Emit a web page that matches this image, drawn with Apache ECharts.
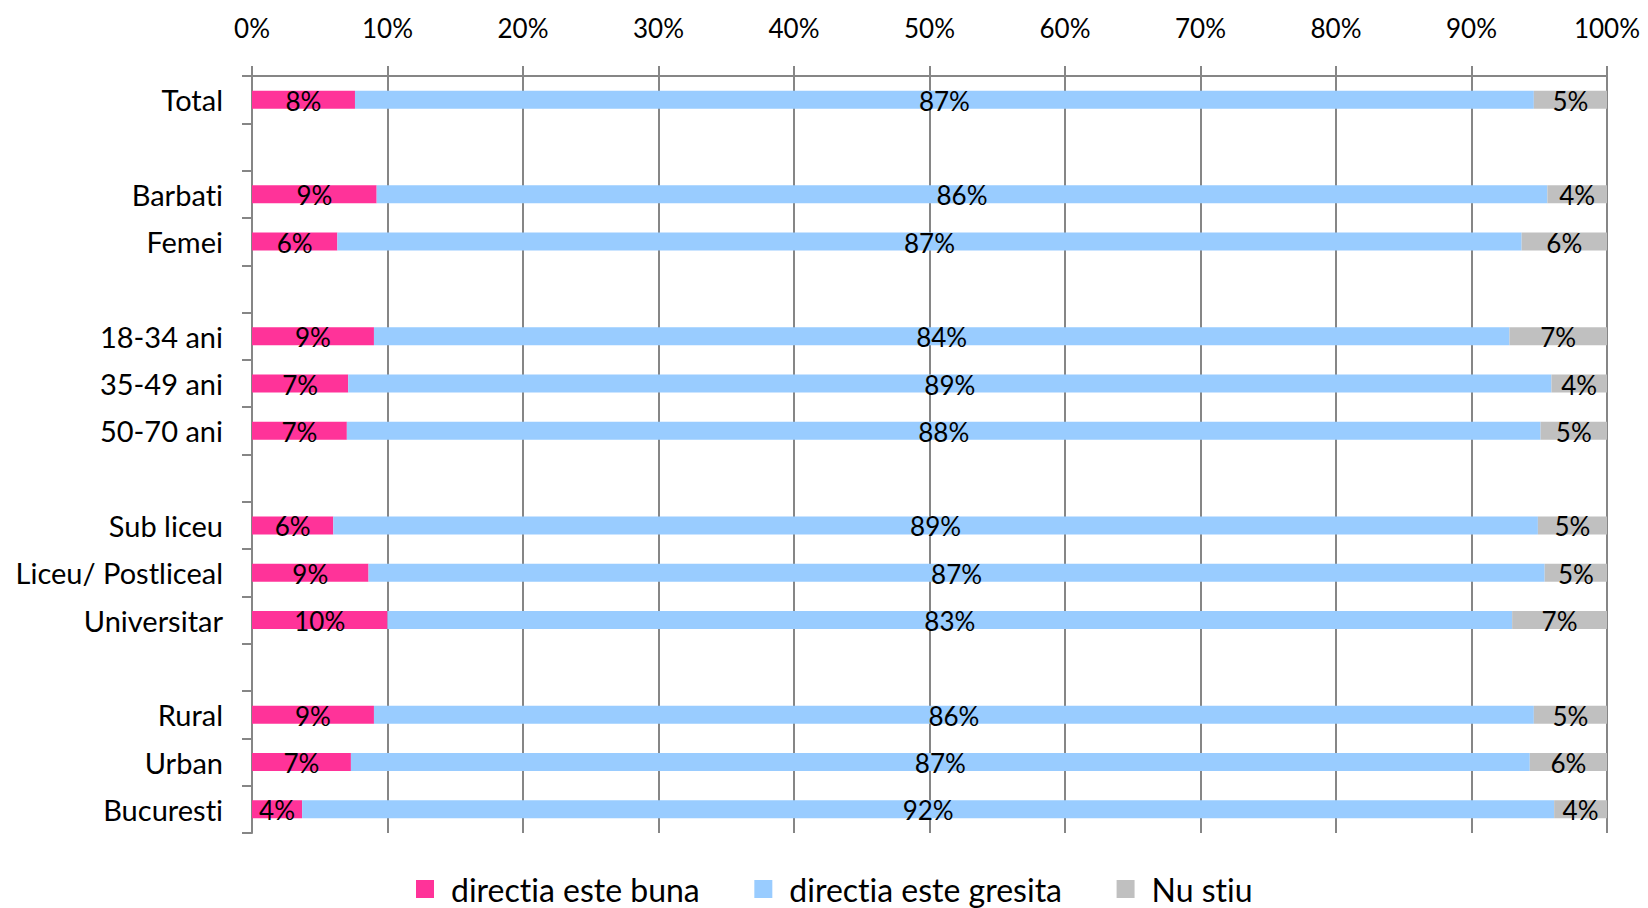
<!DOCTYPE html>
<html>
<head>
<meta charset="utf-8">
<script src="https://cdn.jsdelivr.net/npm/echarts@6/dist/echarts.min.js"></script>
<style>
  html, body { margin: 0; padding: 0; background: #fff; }
  #chart { width: 1648px; height: 908px; }
  #chart text {
    font-variant-ligatures: none !important;
    font-feature-settings: "liga" 0, "clig" 0 !important;
  }
</style>
</head>
<body>
<div id="chart"></div>
<script>
// rows top to bottom, '' = empty spacer row
var categories = ['Total', '', 'Barbati', 'Femei', '', '18-34 ani', '35-49 ani', '50-70 ani', '',
  'Sub liceu', 'Liceu/ Postliceal', 'Universitar', '', 'Rural', 'Urban', 'Bucuresti'];
var buna    = [7.6, '-', 9.2, 6.3, '-', 9.0, 7.1, 7.0, '-', 6.0, 8.6, 10.0, '-', 9.0, 7.3, 3.7];
var gresita = [87.0, '-', 86.4, 87.4, '-', 83.8, 88.8, 88.1, '-', 88.9, 86.8, 83.0, '-', 85.6, 87.0, 92.4];
var nuStiu  = [5.4, '-', 4.4, 6.3, '-', 7.2, 4.1, 4.9, '-', 5.1, 4.6, 7.0, '-', 5.4, 5.7, 3.9];
var xTicks = [0, 10, 20, 30, 40, 50, 60, 70, 80, 90, 100];

var axisGray = '#868686';
var font = 'Lato';

function bar(name, data, color) {
  return {
    name: name,
    type: 'bar',
    stack: 'all',
    barWidth: 18,
    data: data,
    itemStyle: { color: color },
    label: {
      show: true,
      position: 'inside',
      offset: [0, 1],
      color: '#000',
      fontFamily: font,
      fontSize: 26,
      formatter: function (p) { return Math.round(p.value) + '%'; }
    }
  };
}

var chart = echarts.init(document.getElementById('chart'), null, { renderer: 'svg' });
chart.setOption({
  animation: false,
  textStyle: { fontFamily: font },
  grid: { left: 252, right: 41, top: 76, bottom: 75 },
  xAxis: {
    type: 'value',
    position: 'top',
    min: 0,
    max: 100,
    interval: 10,
    axisLine: { show: true, lineStyle: { color: axisGray, width: 2 } },
    axisTick: { show: true, length: 10, lineStyle: { color: axisGray, width: 2 } },
    splitLine: { show: true, lineStyle: { color: axisGray, width: 2 } },
    axisLabel: {
      margin: 35,
      color: '#000',
      fontFamily: font,
      fontSize: 26,
      formatter: function (v) { return xTicks.indexOf(v) >= 0 ? v + '%' : ''; }
    }
  },
  yAxis: {
    type: 'category',
    inverse: true,
    data: categories,
    axisLine: { show: true, lineStyle: { color: axisGray, width: 2 } },
    axisTick: { show: true, length: 10, lineStyle: { color: axisGray, width: 2 } },
    axisLabel: { margin: 29, color: '#000', fontFamily: font, fontSize: 29 }
  },
  legend: {
    top: 868,
    left: 411,
    itemWidth: 18,
    itemHeight: 18,
    itemGap: 54,
    icon: 'rect',
    textStyle: { fontFamily: font, fontSize: 32, color: '#000', padding: [0, 0, 0, 12] },
    data: ['directia este buna', 'directia este gresita', 'Nu stiu']
  },
  series: [
    bar('directia este buna', buna, '#FF3399'),
    bar('directia este gresita', gresita, '#99CCFF'),
    bar('Nu stiu', nuStiu, '#C0C0C0')
  ]
});
</script>
</body>
</html>
